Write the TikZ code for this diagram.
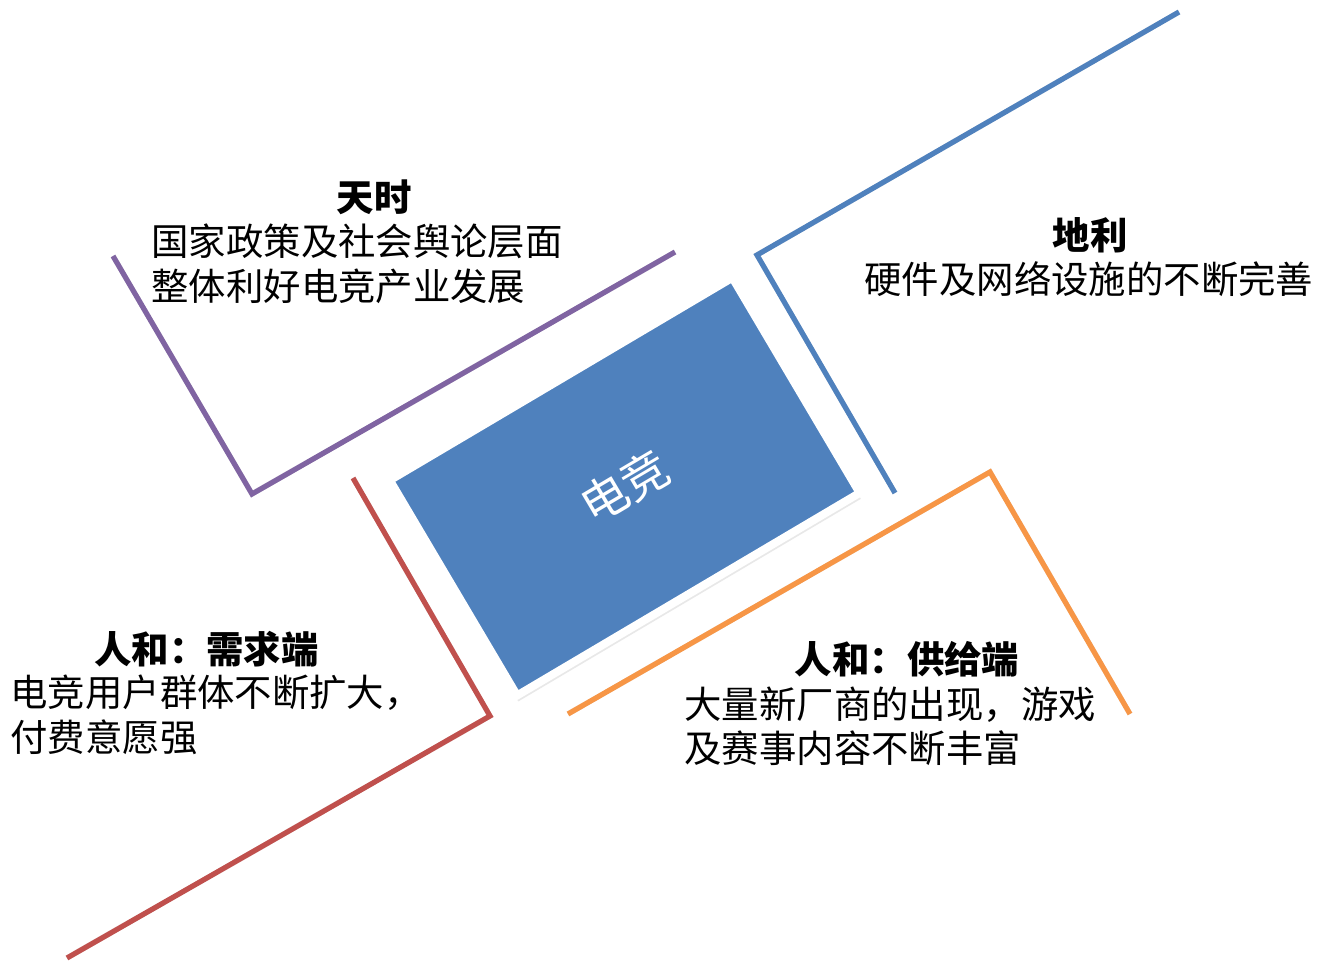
\documentclass[tikz,border=0pt]{standalone}
\usepackage{fontspec}
\newfontfamily\cjk{Noto Sans CJK SC}
\usetikzlibrary{shadows}
\definecolor{cpurple}{HTML}{8064A2}
\definecolor{cblue}{HTML}{4F81BD}
\definecolor{cred}{HTML}{C0504D}
\definecolor{corange}{HTML}{F79646}
\begin{document}
\begin{tikzpicture}[x=0.5pt,y=-0.5pt,
  bar/.style={line width=2.6pt, line join=miter},
  barshadow/.style={line width=2.6pt, line join=miter, draw=black, opacity=0.10, shift={(1.5,1.5)}},
  txt/.style={font=\cjk\fontsize{18.7pt}{22.5pt}\selectfont, inner sep=0pt, anchor=base west},
  ttl/.style={font=\cjk\bfseries\fontsize{18.7pt}{22.5pt}\selectfont, inner sep=0pt, anchor=base}]
\useasboundingbox (0,0) rectangle (1318,961);

% corner coordinates of the four bracket lines
\coordinate (p1) at (113,256); \coordinate (p2) at (252,494); \coordinate (p3) at (675,252);
\coordinate (b1) at (1179,12); \coordinate (b2) at (757,255); \coordinate (b3) at (895,493);
\coordinate (r1) at (353,478); \coordinate (r2) at (490,716); \coordinate (r3) at (67,958);
\coordinate (o1) at (568,714); \coordinate (o2) at (990,472); \coordinate (o3) at (1130,714);

% shadows of lines
\draw[barshadow] (p1) -- (p2) -- (p3);
\draw[barshadow] (b1) -- (b2) -- (b3);
\draw[barshadow] (r1) -- (r2) -- (r3);
\draw[barshadow] (o1) -- (o2) -- (o3);

% lines
\draw[bar, cpurple] (p1) -- (p2) -- (p3);
\draw[bar, cblue] (b1) -- (b2) -- (b3);
\draw[bar, cred] (r1) -- (r2) -- (r3);
\draw[bar, corange] (o1) -- (o2) -- (o3);

% central framed rectangle (white frame drawn as its border)
\node (core) at (624.75,486.6) [rotate=30.6, fill=cblue, draw=white, line width=4pt,
  minimum width=199pt, minimum height=125pt, inner sep=0pt,
  drop shadow={shadow xshift=0.6pt, shadow yshift=-3pt, opacity=0.18},
  text=white, font=\cjk\fontsize{23.5pt}{28pt}\selectfont] {电竞};

% texts
\node[ttl] (t1) at (374,212) {天时};
\node[txt] (t1a) at (151,256) {国家政策及社会舆论层面};
\node[txt] (t1b) at (151,301) {整体利好电竞产业发展};

\node[ttl] (t2) at (1090,250) {地利};
\node[txt] (t2a) at (864,294) {硬件及网络设施的不断完善};

\node[ttl] (t3) at (206.5,664) {人和：需求端};
\node[txt] (t3a) at (10,707) {电竞用户群体不断扩大，};
\node[txt] (t3b) at (10,752) {付费意愿强};

\node[ttl] (t4) at (907,674) {人和：供给端};
\node[txt] (t4a) at (684,719) {大量新厂商的出现，游戏};
\node[txt] (t4b) at (684,763) {及赛事内容不断丰富};
\end{tikzpicture}
\end{document}
